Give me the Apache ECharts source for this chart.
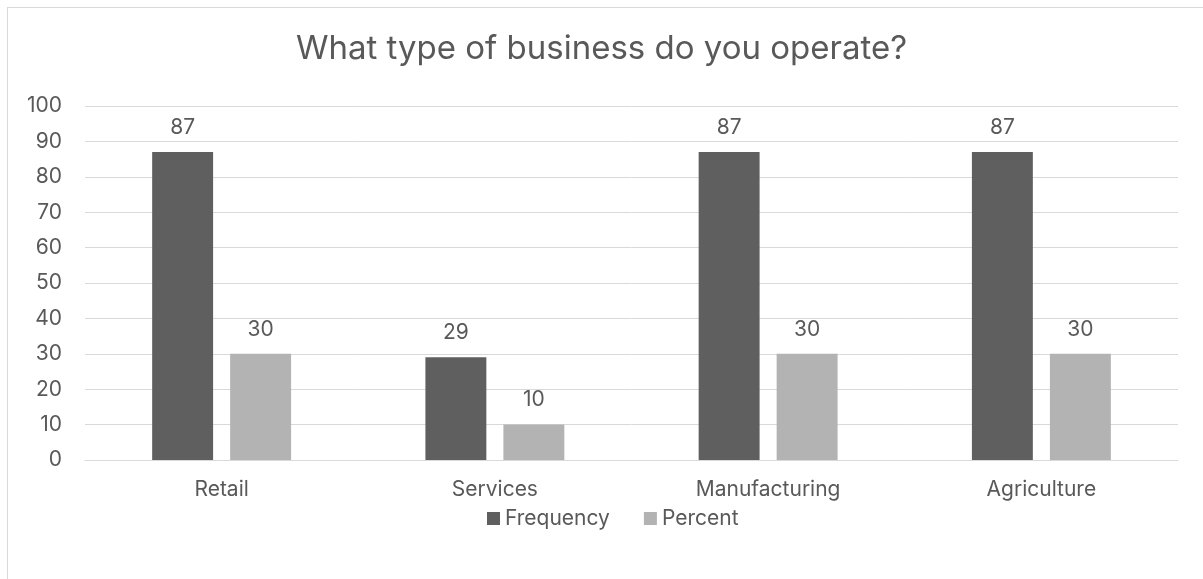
<!DOCTYPE html>
<html>
<head>
<meta charset="utf-8">
<script src="https://cdn.jsdelivr.net/npm/echarts@6/dist/echarts.min.js"></script>
<style>
  html, body { margin: 0; padding: 0; background: #ffffff; overflow: hidden; }
  #frame { position: absolute; left: 7px; top: 7px; width: 1210px; height: 600px; border: 1px solid #d9d9d9; box-sizing: border-box; }
  #chart { position: absolute; left: 0; top: 0; width: 1203px; height: 579px; }
</style>
</head>
<body>
<div id="frame"></div>
<div id="chart"></div>
<script>
const categories = ['Retail', 'Services', 'Manufacturing', 'Agriculture'];
const frequency = [87, 29, 87, 87];
const percent = [30, 10, 30, 30];
const yTicks = { min: 0, max: 100, interval: 10 };

const textColor = '#595959';
const fontFamily = 'Inter, "Noto Sans", sans-serif';
const labelSize = 21;

const chart = echarts.init(document.getElementById('chart'));
chart.setOption({
  animation: false,
  textStyle: { fontFamily: fontFamily, color: textColor },
  title: {
    text: 'What type of business do you operate?',
    left: 'center',
    top: 28,
    textStyle: { fontSize: 33, fontWeight: 'normal', color: textColor, fontFamily: fontFamily }
  },
  legend: {
    data: ['Frequency', 'Percent'],
    left: 482,
    top: 503,
    itemWidth: 13,
    itemHeight: 13,
    itemGap: 34,
    icon: 'rect',
    textStyle: { fontSize: labelSize, color: textColor, fontFamily: fontFamily }
  },
  grid: { left: 85, right: 25, top: 106, bottom: 119, containLabel: false },
  xAxis: {
    type: 'category',
    data: categories,
    axisLine: { show: true, lineStyle: { color: '#d9d9d9', width: 1 } },
    axisTick: { show: false },
    axisLabel: { fontSize: labelSize, color: textColor, margin: 19, fontFamily: fontFamily }
  },
  yAxis: {
    type: 'value',
    min: yTicks.min,
    max: yTicks.max,
    interval: yTicks.interval,
    axisLine: { show: false },
    axisTick: { show: false },
    splitLine: { lineStyle: { color: '#d9d9d9', width: 1 } },
    axisLabel: { fontSize: labelSize, color: textColor, margin: 23, fontFamily: fontFamily }
  },
  series: [
    {
      name: 'Frequency',
      type: 'bar',
      data: frequency,
      barWidth: '22.3%',
      barGap: '28%',
      itemStyle: { color: '#5f5f5f' },
      label: { show: true, position: 'top', distance: 14, fontSize: labelSize, color: textColor, fontFamily: fontFamily }
    },
    {
      name: 'Percent',
      type: 'bar',
      data: percent,
      barWidth: '22.3%',
      itemStyle: { color: '#b3b3b3' },
      label: { show: true, position: 'top', distance: 14, fontSize: labelSize, color: textColor, fontFamily: fontFamily }
    }
  ]
});
</script>
</body>
</html>
